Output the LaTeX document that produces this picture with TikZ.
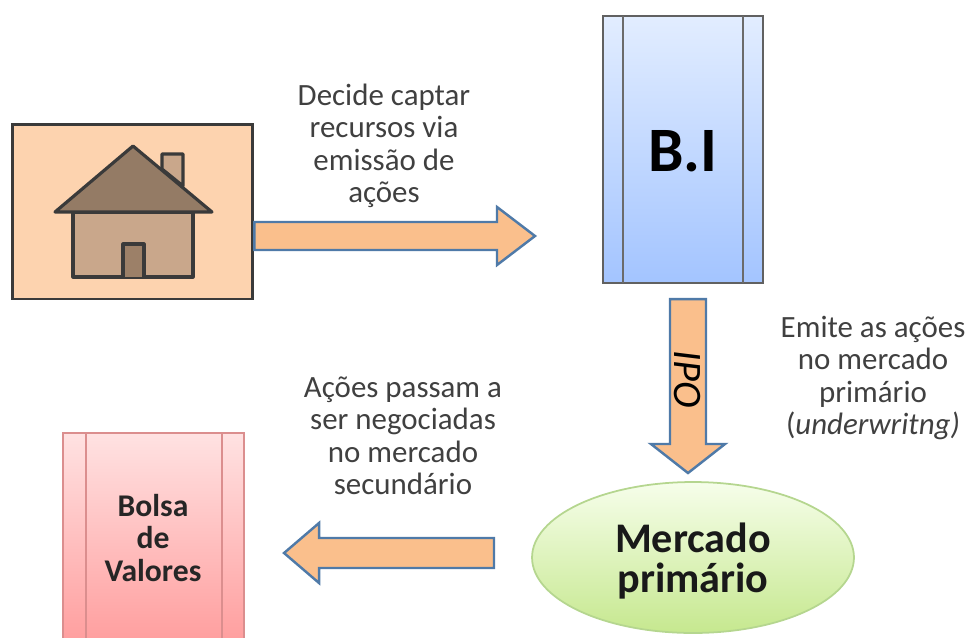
\documentclass[tikz,border=0pt]{standalone}
\usepackage{fontspec}
\setmainfont{Carlito}
\usetikzlibrary{calc,shapes.geometric}
\definecolor{peach}{HTML}{FDD3AF}
\definecolor{arrowfill}{HTML}{FABF8C}
\definecolor{arrowline}{HTML}{4F7AA8}
\definecolor{roofbrown}{HTML}{947B65}
\definecolor{wallbrown}{HTML}{C9A78B}
\definecolor{doorbrown}{HTML}{9C8068}
\definecolor{darkline}{HTML}{3A3A3A}
\definecolor{textgray}{HTML}{404040}
\definecolor{bitop}{HTML}{E2EDFF}
\definecolor{bibottom}{HTML}{A3C4FF}
\definecolor{bolsatop}{HTML}{FFE2E2}
\definecolor{bolsabottom}{HTML}{FF9E9E}
\definecolor{bolsaline}{HTML}{DB8E8E}
\definecolor{mercadotop}{HTML}{F6FEEA}
\definecolor{mercadobottom}{HTML}{C6E88F}
\definecolor{mercadoline}{HTML}{B5D68F}
\begin{document}
\begin{tikzpicture}[x=0.02cm,y=-0.02cm]
		\tikzset{pillar/.style = {shape=rectangle,draw,line width=1.2pt,inner sep=0pt}}
		\tikzset{note/.style = {align=center,text=textgray,font=\fontsize{17.6}{18.5}\selectfont}}
		\tikzset{housepart/.style = {draw=darkline,line width=1.8pt,line join=round}}
		\tikzset{blockarrow/.style n args = {3}{draw=arrowline,fill=arrowfill,line width=1.4pt,line join=miter,
			to path={-- ($(\tikztostart)!#1!90:(\tikztotarget)$)
				-- ($($(\tikztotarget)!#3!(\tikztostart)$)!#1!90:(\tikztotarget)$)
				-- ($($(\tikztotarget)!#3!(\tikztostart)$)!#2!90:(\tikztotarget)$)
				-- (\tikztotarget)
				-- ($($(\tikztotarget)!#3!(\tikztostart)$)!#2!-90:(\tikztotarget)$)
				-- ($($(\tikztotarget)!#3!(\tikztostart)$)!#1!-90:(\tikztotarget)$)
				-- ($(\tikztostart)!#1!-90:(\tikztotarget)$) -- cycle}}}
		\path[use as bounding box,clip] (0,0) rectangle (970,637);
		% company
		\node[draw=darkline,fill=peach,line width=1.7pt,minimum width=4.82cm,minimum height=3.5cm,inner sep=0pt] (house) at (132.5,211.5) {};
		\draw[housepart,fill=wallbrown] (162,169) -- (162,154) -- (183,154) -- (183,186) -- cycle;
		\draw[housepart,fill=wallbrown] (73,212) rectangle (193,277);
		\draw[housepart,fill=doorbrown] (123,277) -- (123,244) -- (144,244) -- (144,277);
		\draw[housepart,fill=roofbrown] (133,146) -- (212,212) -- (55,212) -- cycle;
		% boxes
		\node[pillar,draw=darkline!80,top color=bitop,bottom color=bibottom,minimum width=3.2cm,minimum height=5.34cm] (bi) at (683,149.5) {};
		\node at (683,151) (bilabel) [font=\fontsize{36}{38}\bfseries\selectfont] {B.I};
		\node[pillar,draw=bolsaline,top color=bolsatop,bottom color=bolsabottom,minimum width=3.62cm,minimum height=4.2cm] (bolsa) at (153.5,538) {};
		\node[align=center,font=\fontsize{18}{18.7}\bfseries\selectfont,text=black!85] (bolsalabel) at (153,538) {Bolsa\\de\\Valores};
		\node[ellipse,draw=mercadoline,line width=1pt,top color=mercadotop,bottom color=mercadobottom,minimum width=6.44cm,minimum height=3.02cm,inner sep=0pt] (mercado) at (693,557.5) {};
		\node[align=center,font=\fontsize{24}{23}\bfseries\selectfont,text=black!90] (mercadolabel) at (693,561) {Mercado\\primário};
		% pillar rules
		\foreach \rule in {623,743}
			\draw[darkline!75,line width=1.2pt] (\rule,16) -- (\rule,283);
		\foreach \rule in {86,222}
			\draw[bolsaline,line width=1.2pt] (\rule,433) -- (\rule,643);
		% arrows
		\coordinate (housetip) at (535,236);
		\coordinate (ipostart) at ($(bi.south)+(5,15)$);
		\coordinate (ipotip) at (688,473);
		\coordinate (mercadostart) at (494,553);
		\coordinate (bolsatip) at ($(bolsa.east |- mercadostart)+(39,0)$);
		\path[blockarrow={0.28cm}{0.58cm}{0.76cm}] (house.east |- housetip) to (housetip);
		\path[blockarrow={0.36cm}{0.74cm}{0.58cm}] (ipostart) to (ipotip);
		\path[blockarrow={0.30cm}{0.60cm}{0.70cm}] (mercadostart) to (bolsatip);
		\node[rotate=-90,font=\fontsize{23}{24}\itshape\selectfont] (ipo) at (687,379) {IPO};
		% labels
		\node[note] (decide) at (384,146) {Decide captar\\recursos via\\emissão de\\ações};
		\node[note] (emite) at (873,378) {Emite as ações\\no mercado\\primário\\(\textit{underwritng)}};
		\node[note] (acoes) at (403,436) {Ações passam a\\ser negociadas\\no mercado\\secundário};
	\end{tikzpicture}
\end{document}
